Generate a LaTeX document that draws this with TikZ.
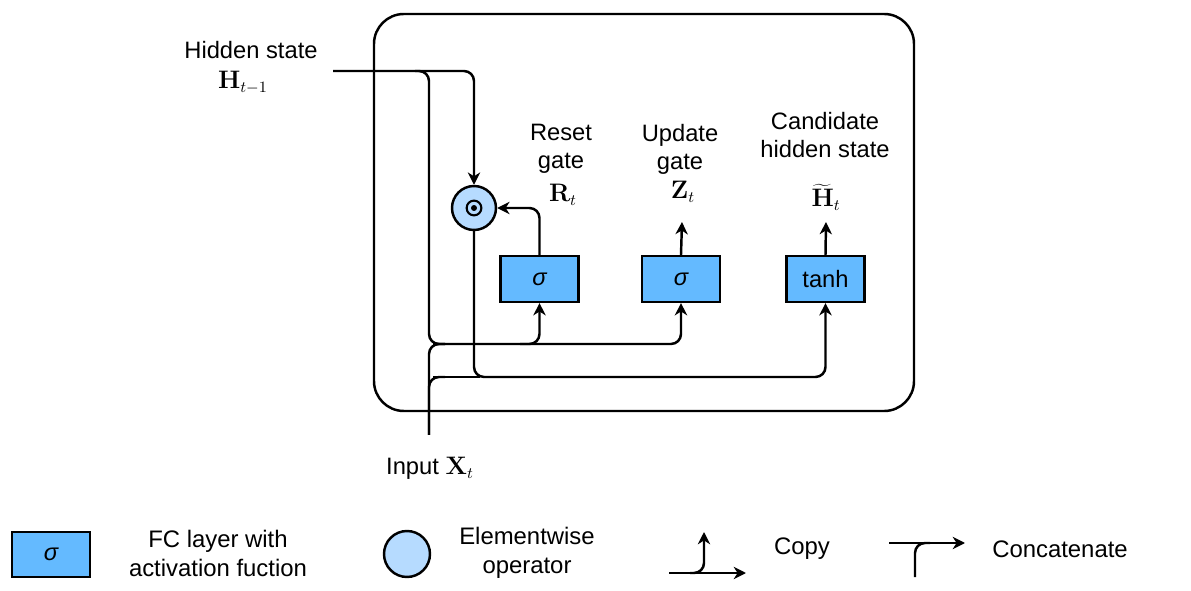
\documentclass[tikz,border=0pt]{standalone}
\usepackage[no-math]{fontspec}
\setmainfont{Liberation Sans}
\usetikzlibrary{arrows.meta,shapes.geometric}
\definecolor{fcblue}{RGB}{100,186,255}
\definecolor{opblue}{RGB}{182,219,255}
\begin{document}
\begin{tikzpicture}[x=0.02cm,y=-0.02cm,
  line width=1.4pt,
  arr/.style={-{Stealth[length=7pt,width=7pt,inset=2.2pt]}},
  rc/.style={rounded corners=5.7pt},
  fc/.style={draw, line width=1.2pt, fill=fcblue, minimum width=1.56cm, minimum height=0.92cm, inner sep=0pt, font=\fontsize{13.5}{16}\selectfont},
  op/.style={draw, line width=1.4pt, fill=opblue, circle, minimum size=0.88cm, inner sep=0pt},
  lbl/.style={align=center, font=\fontsize{13.5}{16}\selectfont, inner sep=0pt},
  mth/.style={anchor=base, inner sep=0pt, font=\fontsize{13.5}{16}\selectfont},
  leg/.style={align=center, font=\fontsize{13.6}{16.5}\selectfont, inner sep=0pt}]
\useasboundingbox (0,0) rectangle (1191,591);
% cell
\draw[line width=1.4pt, rounded corners=17pt] (374,14) rectangle (914,411);
% nodes
\node[op] (circ) at (474,208) {};
\fill (circ.center) circle[radius=1.7pt];
\draw[line width=1.2pt] (circ.center) circle[radius=4.2pt];
\node[fc] (r) at (539.5,279) {\itshape σ};
\node[fc] (z) at (681,279) {\itshape σ};
\node[fc] (h) at (825.5,279) {tanh};
% labels
\node[lbl] (hsl) at (251,50) {Hidden state};
\node[mth] (hsm) at (243,89) {$\mathbf{H}_{t-1}$};
\node[lbl] (rl) at (561,149) {Reset\\gate};
\node[mth] (rm) at (563,202) {$\mathbf{R}_t$};
\node[lbl] (zl) at (680,149) {Update\\gate};
\node[mth] (zm) at (683,199) {$\mathbf{Z}_t$};
\node[lbl] (hl) at (825,135) {Candidate\\hidden state};
\node[mth] (hm) at (826,207) {$\widetilde{\mathbf{H}}_t$};
\node[lbl] (xl) at (430,468) {Input $\mathbf{X}_t$};
% coordinates
\coordinate (hin) at (333,71);
\coordinate (xin) at (429,435);
\coordinate (zt) at (682,222);
\coordinate (ht) at (826,222);
% connectors
\draw[arr, rc] (hin) -| (circ.north);
\draw[rc] (415,71) -| (429,344) -- (445,344);
\draw[rc] (xin) -- (429,344) -- (445,344);
\draw[rc] (xin) -- (429,377) -- (445,377);
\draw[arr, rc] (433,344) -| (z.south);
\draw[arr, rc] (520,344) -| (r.south);
\draw[arr, rc] (circ.south) -- (474,377) -| (h.south);
\draw[rc] (433,377) -- (480,377);
\draw[arr, rc] (r.north) |- (circ.east);
\draw[arr] (z.north) -- (zt);
\draw[arr] (h.north) -- (ht);
% legend
\node[fc, minimum width=1.56cm, minimum height=0.9cm] (lfc) at (51,554.5) {\itshape σ};
\node[leg] (lfct) at (218,553) {FC layer with\\activation fuction};
\node[op, minimum size=0.92cm] (lop) at (407,554) {};
\node[leg] (lopt) at (527,553) {Elementwise\\operator};
\coordinate (c1) at (669,573);
\coordinate (c2) at (746,573);
\coordinate (c3) at (704,532);
\draw[arr] (c1) -- (c2);
\draw[arr, rc] (690,573) -| (c3);
\node[leg] (copyt) at (802,549) {Copy};
\coordinate (k1) at (889,543);
\coordinate (k2) at (965,543);
\coordinate (k3) at (915,577);
\draw[arr] (k1) -- (k2);
\draw[rc] (k3) -- (915,543) -- (930,543);
\node[leg] (catt) at (1060,549) {Concatenate};
\end{tikzpicture}
\end{document}
